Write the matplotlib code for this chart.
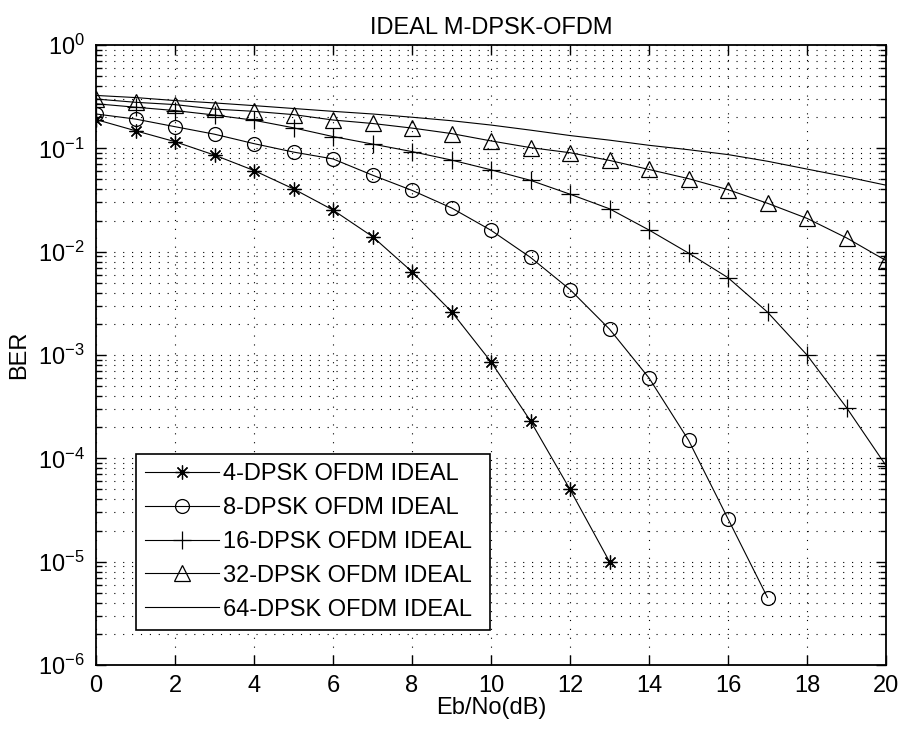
import matplotlib
matplotlib.use("Agg")
import matplotlib.pyplot as plt
from matplotlib.ticker import LogLocator, NullFormatter

plt.rcParams['font.family'] = ['Liberation Sans', 'DejaVu Sans']
plt.rcParams['mathtext.fontset'] = 'custom'
plt.rcParams['mathtext.rm'] = 'Liberation Sans'

# Eb/No (dB) and BER curves
ebno = list(range(21))

ber_4dpsk = [0.19, 0.148, 0.116, 0.086, 0.061, 0.0405, 0.0253, 0.0140, 0.0064,
             0.00263, 8.6e-4, 2.3e-4, 5.0e-5, 1.0e-5]
ber_8dpsk = [0.215, 0.192, 0.162, 0.137, 0.111, 0.092, 0.079, 0.055, 0.0392,
             0.0265, 0.0161, 0.0088, 0.0043, 0.00178, 6.0e-4, 1.5e-4, 2.6e-5, 4.5e-6]
ber_16dpsk = [0.27, 0.25, 0.232, 0.21, 0.187, 0.158, 0.13, 0.11, 0.093, 0.077,
              0.062, 0.049, 0.036, 0.026, 0.0162, 0.0097, 0.0056, 0.0026, 0.001,
              3.1e-4, 8.5e-5]
ber_32dpsk = [0.30, 0.279, 0.265, 0.24, 0.228, 0.212, 0.188, 0.174, 0.157, 0.139,
              0.118, 0.1016, 0.0907, 0.0764, 0.0624, 0.0509, 0.0398, 0.0294, 0.021,
              0.0136, 0.0082]
ber_64dpsk = [0.325, 0.31, 0.29, 0.275, 0.259, 0.243, 0.228, 0.215, 0.2, 0.185,
              0.168, 0.15, 0.133, 0.12, 0.107, 0.097, 0.087, 0.075, 0.063, 0.053,
              0.044]

labels = ['4-DPSK OFDM IDEAL', '8-DPSK OFDM IDEAL', '16-DPSK OFDM IDEAL',
          '32-DPSK OFDM IDEAL', '64-DPSK OFDM IDEAL']

FS = 17

fig = plt.figure(figsize=(8.99, 7.34), dpi=100)
ax = fig.add_axes([96 / 899, 1 - 665 / 734, 790 / 899, 620 / 734])

lw = 0.8
ax.semilogy(ebno[:len(ber_4dpsk)], ber_4dpsk, color='k', lw=lw,
            marker=(8, 2, 0), ms=10, mew=0.9, label=labels[0])
ax.semilogy(ebno[:len(ber_8dpsk)], ber_8dpsk, color='k', lw=lw,
            marker='o', ms=10, mfc='none', mew=0.9, label=labels[1])
ax.semilogy(ebno, ber_16dpsk, color='k', lw=lw,
            marker='+', ms=13, mew=0.9, label=labels[2])
ax.semilogy(ebno, ber_32dpsk, color='k', lw=lw,
            marker='^', ms=11, mfc='none', mew=0.9, label=labels[3])
ax.semilogy(ebno, ber_64dpsk, color='k', lw=lw, label=labels[4])

ax.set_xlim(0, 20)
ax.set_ylim(1e-6, 1)
ax.set_xticks(range(0, 21, 2))
ax.yaxis.set_major_locator(LogLocator(base=10, numticks=10))
ax.yaxis.set_minor_locator(LogLocator(base=10, subs=range(2, 10), numticks=20))
ax.yaxis.set_minor_formatter(NullFormatter())

dots = (0, (1, 7))
ax.grid(True, which='major', color='k', lw=0.8, linestyle=dots)
ax.grid(True, which='minor', axis='y', color='k', lw=0.8, linestyle=dots)

ax.tick_params(which='both', direction='in', top=True, right=True,
               labelsize=FS, width=1.0)
ax.tick_params(which='major', length=7)
ax.tick_params(which='minor', length=4)
ax.tick_params(axis='x', pad=7)
ax.tick_params(axis='y', pad=8)
for s in ax.spines.values():
    s.set_linewidth(1.3)

ax.set_title('IDEAL M-DPSK-OFDM', fontsize=FS, pad=8)
ax.set_xlabel('Eb/No(dB)', fontsize=FS, labelpad=0)
ax.set_ylabel('BER', fontsize=FS, labelpad=6)

leg = ax.legend(loc='lower left', bbox_to_anchor=(0.0506, 0.0565, 0.448, 0.286),
                mode='expand', fontsize=FS, frameon=True, fancybox=False,
                edgecolor='k', framealpha=1, handlelength=3.1,
                handletextpad=0.2, labelspacing=0.5, borderpad=0.4,
                borderaxespad=0)
leg.get_frame().set_linewidth(1.2)

fig.savefig('out.png', dpi=100)
